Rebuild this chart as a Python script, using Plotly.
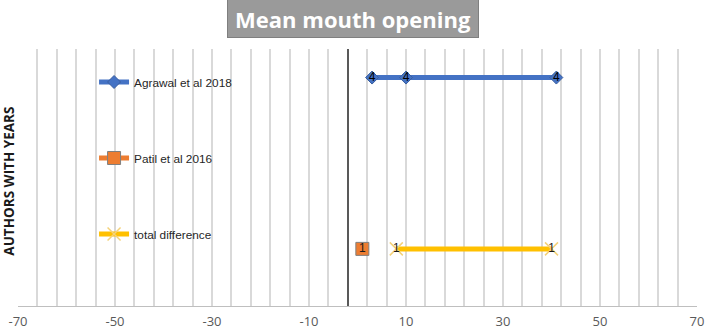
import plotly.graph_objects as go

# Data
agrawal_x = [3, 10, 41]
agrawal_y = [4, 4, 4]
patil_x = [1]
patil_y = [1]
total_x = [8, 40]
total_y = [1, 1]

series_names = ["Agrawal et al 2018", "Patil et al 2016", "total difference"]

grid_vals = list(range(-70, 71, 4))
label_vals = [-70, -50, -30, -10, 10, 30, 50, 70]
tick_text = [str(v) if v in label_vals else "" for v in grid_vals]
x_min, x_max = -70, 70
y_min, y_max = 0, 4.5
axis_cross = -2

fig = go.Figure()

fig.add_trace(go.Scatter(
    x=agrawal_x, y=agrawal_y, name=series_names[0], legendgroup="a",
    mode="lines+markers+text", text=[str(v) for v in agrawal_y],
    textposition="middle center", textfont=dict(size=12, color="#000000"),
    line=dict(color="#4472C4", width=5),
    marker=dict(symbol="diamond", size=10, color="#4472C4",
                line=dict(color="#3a5f9f", width=1)),
))
fig.add_trace(go.Scatter(
    x=patil_x, y=patil_y, name=series_names[1], legendgroup="b",
    mode="lines+markers+text", text=[str(v) for v in patil_y],
    textposition="middle center", textfont=dict(size=12, color="#1a1a1a"),
    line=dict(color="#ED7D31", width=5),
    marker=dict(symbol="square", size=13, color="#ED7D31",
                line=dict(color="#7f7f7f", width=1)),
))
fig.add_trace(go.Scatter(
    x=total_x, y=total_y, name=series_names[2], legendgroup="c",
    mode="lines+markers+text", text=[str(v) for v in total_y],
    textposition="middle center", textfont=dict(size=12, color="#1a1a1a"),
    line=dict(color="#FFC000", width=5),
    marker=dict(symbol="x-thin", size=13, color="#FFE699",
                line=dict(color="#F4D27A", width=1.5)),
))

fig.update_layout(
    width=708, height=335,
    margin=dict(l=18, r=11, t=49, b=29, autoexpand=False),
    paper_bgcolor="white", plot_bgcolor="white",
    font=dict(family="Liberation Sans, Arial, sans-serif", color="#262626"),
    showlegend=True,
    legend=dict(x=0.112, y=0.928, xanchor="left", yanchor="top",
                bgcolor="rgba(0,0,0,0)", font=dict(size=11.8, color="#262626"),
                tracegroupgap=57, itemwidth=30),
    xaxis=dict(range=[x_min, x_max], tickmode="array", tickvals=grid_vals,
               ticktext=tick_text, showgrid=True, gridcolor="#d9d9d9",
               gridwidth=1.5, zeroline=False, showline=True,
               linecolor="#bfbfbf", linewidth=1, ticks="", automargin=False,
               ticklabelstandoff=3,
               tickfont=dict(family="Open Sans, sans-serif", size=13, color="#595959"),
               fixedrange=True),
    yaxis=dict(range=[y_min, y_max], showgrid=False, zeroline=False,
               showticklabels=False, showline=True, linecolor="#595959",
               linewidth=1.5, anchor="free", automargin=False, fixedrange=True,
               position=(axis_cross - x_min) / (x_max - x_min), ticks=""),
)

fig.add_annotation(
    text="<b>AUTHORS WITH YEARS</b>", textangle=-90,
    xref="paper", yref="paper", x=-0.0135, y=0.487,
    xanchor="center", yanchor="middle",
    showarrow=False, font=dict(size=13.5, color="#1a1a1a",
                               family="Open Sans, sans-serif"),
)

fig.add_annotation(
    text="<b>Mean mouth opening</b>",
    xref="paper", yref="paper", x=0.4934, y=1.117,
    xanchor="center", yanchor="middle", showarrow=False,
    font=dict(size=22, color="white", family="Open Sans, sans-serif"),
    bgcolor="#9a9a9a", bordercolor="#7f7f7f", borderwidth=1,
    width=248, height=35,
)

fig.write_html("out.html", config={"displayModeBar": False},
               post_script="document.body.style.margin='0';")
